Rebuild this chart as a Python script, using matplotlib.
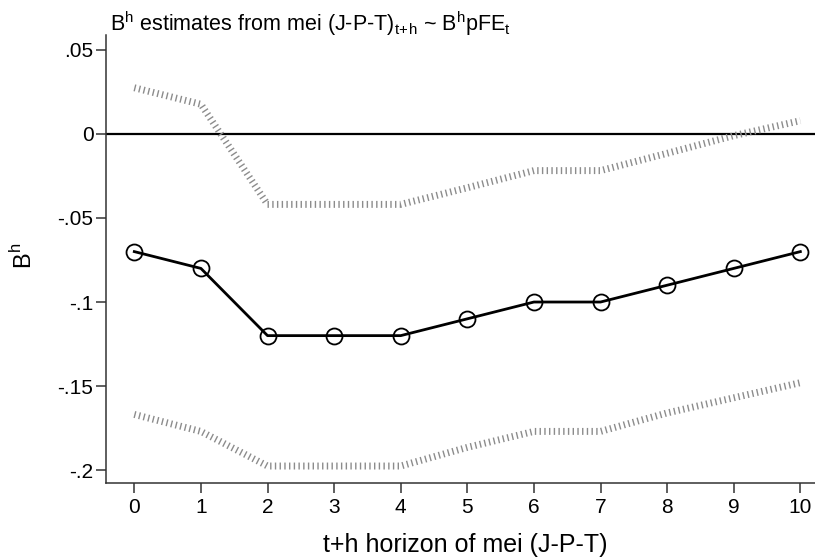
import matplotlib
matplotlib.use("Agg")
import matplotlib.pyplot as plt

plt.rcParams['font.family'] = ['Liberation Sans', 'DejaVu Sans']
plt.rcParams['mathtext.fontset'] = 'custom'
plt.rcParams['mathtext.rm'] = 'Liberation Sans'
plt.rcParams['lines.scale_dashes'] = False

horizon = [0, 1, 2, 3, 4, 5, 6, 7, 8, 9, 10]
estimate = [-0.07, -0.08, -0.12, -0.12, -0.12, -0.11, -0.10, -0.10, -0.09, -0.08, -0.07]
upper_ci = [0.0275, 0.0177, -0.0419, -0.0419, -0.0419, -0.032, -0.0218, -0.0218, -0.0115, -0.001, 0.0079]
lower_ci = [-0.1669, -0.177, -0.1976, -0.1976, -0.1976, -0.1865, -0.177, -0.177, -0.166, -0.157, -0.148]
yticks = [0.05, 0, -0.05, -0.1, -0.15, -0.2]
ytick_labels = [".05", "0", "-.05", "-.1", "-.15", "-.2"]

W, H = 815, 557
fig = plt.figure(figsize=(W / 100, H / 100), dpi=100)
left, right, top, bottom = 106, 815, 35, 483
ax = fig.add_axes([left / W, 1 - bottom / H, (right - left) / W, (bottom - top) / H])

ci_kw = dict(color='#8c8c8c', lw=5, dashes=(1.0, 2.4), solid_capstyle='butt',
             dash_capstyle='butt', zorder=2)
ax.plot(horizon, upper_ci, **ci_kw)
ax.plot(horizon, lower_ci, **ci_kw)
ax.axhline(0, color='black', lw=1.6, zorder=1)
ax.plot(horizon, estimate, color='black', lw=2.0, marker='o', ms=11.5,
        mfc='none', mec='black', mew=1.3, zorder=3)

ax.set_xlim(-0.425, 10.22)
ax.set_ylim(-0.2077, 0.0589)
ax.set_xticks(horizon)
ax.set_xticklabels([str(h) for h in horizon])
ax.set_yticks(yticks)
ax.set_yticklabels(ytick_labels)

for s in ['top', 'right']:
    ax.spines[s].set_visible(False)
for s in ['left', 'bottom']:
    ax.spines[s].set_color('#333333')
    ax.spines[s].set_linewidth(1.1)
ax.tick_params(axis='both', colors='#333333', labelcolor='black', labelsize=15,
               length=7, width=1.1, direction='out')
ax.tick_params(axis='x', pad=3.5)
ax.tick_params(axis='y', pad=2)

fig.text(110 / W, 1 - 31 / H,
         r"B$^\mathregular{h}$ estimates from mei (J-P-T)$_\mathregular{t\!+\!h}$ ~ B$^\mathregular{h}$pFE$_\mathregular{t}$",
         fontsize=15.5, ha='left', va='baseline')
fig.text(465 / W, 1 - 552 / H, "t+h horizon of mei (J-P-T)", fontsize=18,
         ha='center', va='baseline')
fig.text(24 / W, 1 - 256 / H, r"B$^\mathregular{h}$", fontsize=17, rotation=90,
         ha='center', va='center')

fig.savefig("out.png", dpi=100)
